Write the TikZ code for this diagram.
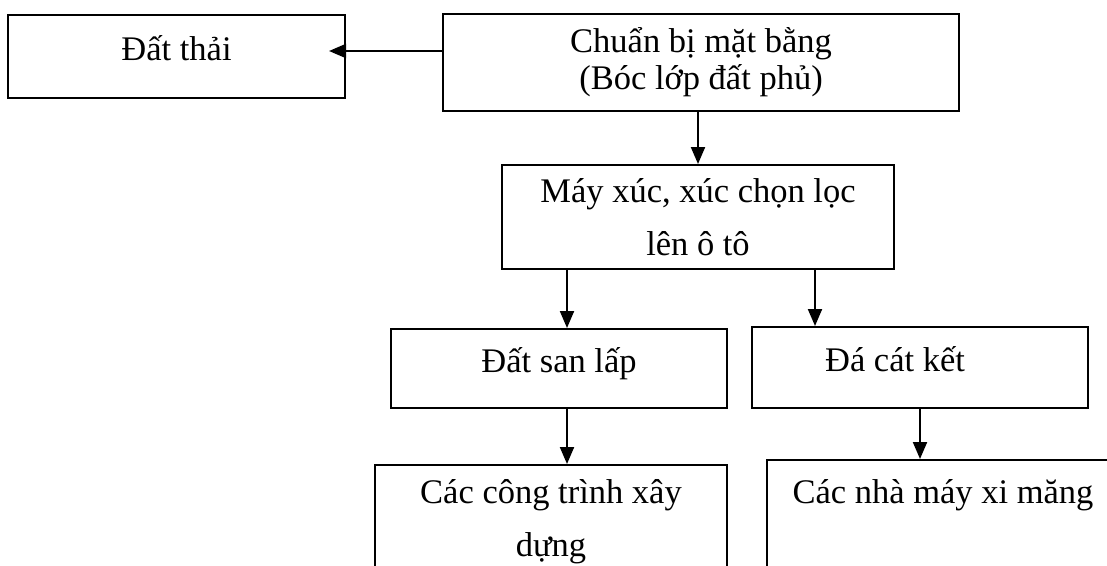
\documentclass[tikz,border=0pt]{standalone}
\usepackage{fontspec}
\setmainfont{Liberation Serif}
\usetikzlibrary{positioning}
\usetikzlibrary{arrows.meta}
\tikzstyle{block} = [rectangle, draw=black, line width=2pt, inner sep=0pt, align=center, font=\fontsize{34.5}{37}\selectfont]
\tikzstyle{oneline} = [block, text height=24pt, text depth=16pt]
\tikzstyle{twoline} = [block, font=\fontsize{34.5}{53}\selectfont]
\tikzstyle{arrow} = [line width=2pt, -{Triangle[length=17pt, width=14pt]}]

\begin{document}
\begin{tikzpicture}[x=1pt, y=-1pt]

\useasboundingbox (0,0) rectangle (1107,565);
\clip (0,0) rectangle (1107,565);


% Site preparation

	\node (chuanbi) [block, minimum width=516pt, minimum height=97pt] at (701,62.5) {Chuẩn bị mặt bằng\\(Bóc lớp đất phủ)};

	\node (datthai) [oneline, minimum width=337pt, minimum height=83pt, left=96pt of chuanbi, yshift=6pt] {Đất thải};


% Excavation

	\node (mayxuc) [twoline, minimum width=392pt, minimum height=104pt, below=52pt of chuanbi, xshift=-3pt] {Máy xúc, xúc chọn lọc\\lên ô tô};


% Products

	\node (satlap) [oneline, minimum width=336pt, minimum height=79pt, below=58pt of mayxuc, xshift=-139pt] {Đất san lấp};

	\node (dacat) [oneline, minimum width=336pt, minimum height=81pt, below=56pt of mayxuc, xshift=222pt] {Đá cát kết\hspace*{50pt}};


% Consumers

	\node (congtrinh) [twoline, minimum width=352pt, minimum height=113pt, below=55pt of satlap, xshift=-8pt] {Các công trình xây\\dựng};

	\node (nhamay) [oneline, text depth=78pt, minimum width=352pt, minimum height=140pt, below=50pt of dacat, xshift=23pt] {Các nhà máy xi măng};




% Waste soil
	\draw [arrow] ([yshift=11.5pt]chuanbi.west) -- ([yshift=5.5pt, xshift=-17pt]datthai.east);


% Down the chain
	\draw [arrow] (mayxuc.north |- chuanbi.south) -- (mayxuc.north);

	\draw [arrow] ([xshift=8pt]satlap.north |- mayxuc.south) -- ([xshift=8pt]satlap.north);
	\draw [arrow] ([xshift=-105pt]dacat.north |- mayxuc.south) -- ([xshift=-105pt]dacat.north);

	\draw [arrow] ([xshift=8pt]satlap.south) -- ([xshift=8pt]satlap.south |- congtrinh.north);
	\draw [arrow] (dacat.south) -- (dacat.south |- nhamay.north);


\end{tikzpicture}
\end{document}
